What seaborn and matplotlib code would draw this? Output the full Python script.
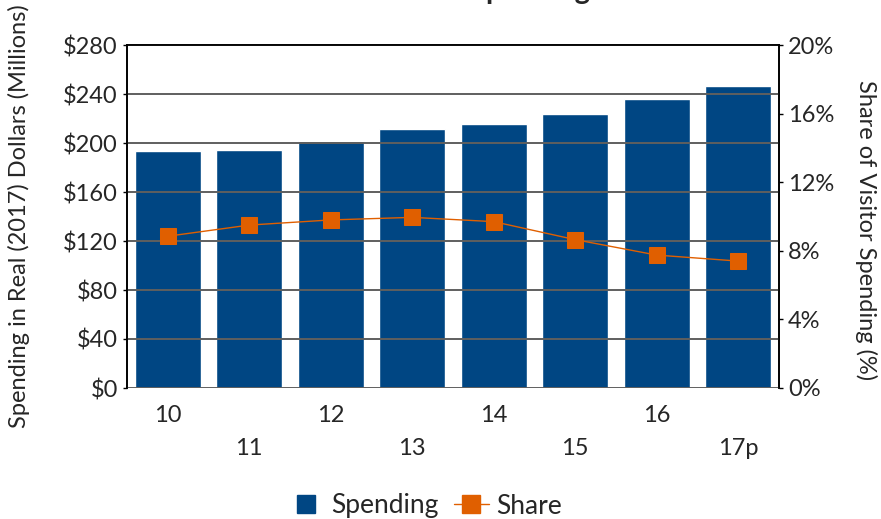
import matplotlib
matplotlib.use("Agg")
import matplotlib.pyplot as plt
import matplotlib.ticker as mticker
from matplotlib.lines import Line2D
import seaborn as sns
import pandas as pd

years = ["10", "11", "12", "13", "14", "15", "16", "17p"]
spending = [193.5, 194.5, 201.5, 211.5, 215.5, 223.5, 236, 246.5]
share = [8.85, 9.5, 9.8, 9.95, 9.7, 8.65, 7.75, 7.4]

BLUE = "#004683"
ORANGE = "#E05F00"

sns.set_theme(style="white")
plt.rcParams["font.family"] = ["Lato", "DejaVu Sans"]

df = pd.DataFrame({"year": years, "spending": spending, "share": share})

fig = plt.figure(figsize=(8.81, 5.19), dpi=100)
ax = fig.add_axes([127 / 881, 1 - 388 / 519, (779 - 127) / 881, (388 - 45) / 519])

# bars: spending
sns.barplot(data=df, x="year", y="spending", color=BLUE, saturation=1,
            width=0.81, ax=ax, zorder=1)
ax.set_ylim(0, 280)
ax.set_xlim(-0.5, 7.5)
ax.set_yticks(range(0, 281, 40))
ax.yaxis.set_major_formatter(mticker.StrMethodFormatter("${x:,.0f}"))
ax.set_axisbelow(False)
ax.grid(axis="y", color="#5f5f5f", lw=1.4, zorder=3)
ax.set_xticks(range(len(years)))
ax.set_xticklabels([y if i % 2 == 0 else "\n" + y for i, y in enumerate(years)],
                   fontsize=17, linespacing=1.7)
ax.tick_params(axis="y", labelsize=17, length=3, width=1, color="black", direction="out", left=True)
ax.tick_params(axis="x", length=0, pad=12)
ax.set_xlabel("")
ax.set_ylabel("Spending in Real (2017) Dollars (Millions)", fontsize=17)
ax.yaxis.set_label_coords(-0.149, 0.50)

# line: share on the right axis
ax2 = ax.twinx()
sns.pointplot(data=df, x="year", y="share", color=ORANGE, markers="s",
              markersize=12, linewidth=1, ax=ax2)
ax2.set_xlim(-0.5, 7.5)
ax2.set_ylim(0, 20)
ax2.set_yticks(range(0, 21, 4))
ax2.yaxis.set_major_formatter(mticker.StrMethodFormatter("{x:.0f}%"))
ax2.tick_params(axis="y", labelsize=17, length=3, width=1, color="black", direction="out", right=True)
ax2.set_ylabel("Share of Visitor Spending (%)", fontsize=17, rotation=270)
ax2.yaxis.set_label_coords(1.15, 0.46)
ax2.set_xlabel("")

for a in (ax, ax2):
    for s in a.spines.values():
        s.set_color("black")
        s.set_linewidth(1.2)
    a.spines["bottom"].set_visible(False)

# title sits mostly above the canvas, as in the source image
fig.text(530 / 881, 1 + 1 / 519, "Spending", ha="center", va="baseline",
         fontsize=21, fontweight="bold")

handles = [Line2D([0], [0], color=BLUE, lw=0, marker="s", markersize=13),
           Line2D([0], [0], color=ORANGE, lw=1, marker="s", markersize=13)]
fig.legend(handles, ["Spending", "Share"], loc="center", bbox_to_anchor=(0.483, 1 - 506 / 519),
           ncol=2, frameon=False, fontsize=19, handlelength=1.3, handletextpad=0.3,
           columnspacing=0.6)

fig.savefig("out.png", dpi=100)
